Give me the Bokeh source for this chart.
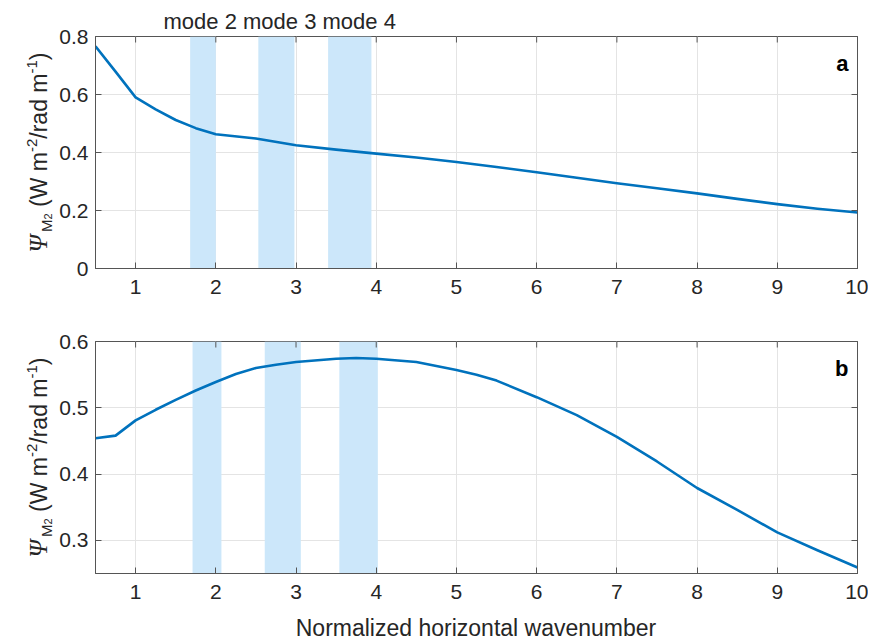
import math
from bokeh.plotting import figure
from bokeh.layouts import column, row
from bokeh.models import Range1d, FixedTicker, LinearAxis, Label, CustomJSTickFormatter
from bokeh.core.properties import value
from bokeh.embed import file_html
from bokeh.resources import INLINE

# ---------------- data ----------------
x_a = [0.5, 0.75, 1.0, 1.25, 1.5, 1.75, 2.0, 2.5, 3.0, 3.5, 4.0, 4.5, 5.0, 5.5,
       6.0, 6.5, 7.0, 7.5, 8.0, 8.5, 9.0, 9.5, 10.0]
psi_a = [0.766, 0.679, 0.590, 0.549, 0.512, 0.484, 0.463, 0.448, 0.425, 0.410,
         0.396, 0.383, 0.367, 0.350, 0.332, 0.313, 0.294, 0.277, 0.259, 0.240,
         0.222, 0.206, 0.193]

x_b = [0.5, 0.75, 1.0, 1.25, 1.5, 1.75, 2.0, 2.25, 2.5, 2.75, 3.0, 3.5, 3.75, 4.0,
       4.5, 5.0, 5.25, 5.5, 6.0, 6.5, 7.0, 7.5, 8.0, 8.5, 9.0, 9.5, 10.0]
psi_b = [0.454, 0.458, 0.481, 0.497, 0.512, 0.526, 0.539, 0.551, 0.560, 0.565,
         0.569, 0.574, 0.575, 0.574, 0.569, 0.557, 0.550, 0.541, 0.516, 0.489,
         0.456, 0.419, 0.379, 0.346, 0.312, 0.285, 0.259]

band_left_a = [1.68, 2.53, 3.40]
band_right_a = [2.00, 2.98, 3.94]
band_left_b = [1.71, 2.61, 3.54]
band_right_b = [2.07, 3.06, 4.02]

x_ticks = [1, 2, 3, 4, 5, 6, 7, 8, 9, 10]
y_ticks_a = [0, 0.2, 0.4, 0.6, 0.8]
y_ticks_b = [0.3, 0.4, 0.5, 0.6]

mode_text = "mode 2 mode 3 mode 4"
panel_tags = ["a", "b"]
x_title = "Normalized horizontal wavenumber"
# y label pieces: (text, role); " " is only an advance
y_label_parts = [("\u03A8", "psi"), ("M", "sub"), ("2", "subsub"), (" ", "main"),
                 ("(W m", "main"), ("-2", "sup"), ("/rad m", "main"), ("-1", "sup"),
                 (")", "main")]

X_RANGE = (0.5, 10.0)
Y_RANGE_A = (0.0, 0.8)
Y_RANGE_B = (0.25, 0.6)

# ---------------- style / layout (pixels) ----------------
TOTAL_W = 868
FRAME_W, FRAME_H = 763, 232
YLAB_W = 56           # width of the y-label strip
BL = 94 - YLAB_W      # left border of the panels (tick labels)
BR = TOTAL_W - YLAB_W - BL - FRAME_W
BT1, BB1 = 36, 61     # panel a borders (top holds the mode labels)
BT2, BB2 = 12, 40     # panel b borders
TITLE_H = 27          # strip below panel b
TICK = 6
BASE_FIX = 0.3        # empirical correction of the alphabetic baseline (em)
LINE_C = "#0072BD"
BAND_C = "#cce7fa"
TXT_C = "#262626"
AX_C = "#555555"
GRID_C = "#e4e4e4"
FONT = "Liberation Sans"

# Arial-like advance widths (per 1000 em)
W = {" ": 278, "(": 333, ")": 333, "W": 944, "m": 833, "/": 278, "r": 333, "a": 556,
     "d": 556, "-": 333, "1": 556, "2": 556, "M": 833, "\u03A8": 820}

ROLE = {  # font, size(px), style, baseline shift (px, + = below baseline)
    "psi": ("Liberation Serif", 25, "italic", 0),
    "sub": (FONT, 15, "normal", 5),
    "subsub": (FONT, 11, "normal", 6),
    "main": (FONT, 23, "normal", 0),
    "sup": (FONT, 15, "normal", -9),
}


def text_w(s, size):
    return sum(W.get(c, 556) for c in s) * size / 1000.0


def text_strip(w, h, bt=0, bb=0):
    f = figure(width=w, height=h, x_range=Range1d(0, w), y_range=Range1d(0, h - bt - bb),
               x_axis_type=None, y_axis_type=None, output_backend="svg",
               toolbar_location=None, min_border=0, min_border_left=0,
               min_border_right=0, min_border_top=bt, min_border_bottom=bb,
               outline_line_color=None, background_fill_color="white",
               border_fill_color="white")
    f.xgrid.visible = False
    f.ygrid.visible = False
    return f


def y_label_strip(bt, bb):
    # same vertical borders as the panel beside it, so frames line up
    s = text_strip(YLAB_W, bt + FRAME_H + bb, bt, bb)
    total = sum(text_w(t, ROLE[r][1]) for t, r in y_label_parts)
    base_x = 45
    cum = FRAME_H / 2 - total / 2
    for t, r in y_label_parts:
        font, size, style, shift = ROLE[r]
        if t.strip():
            s.text(x=[base_x + shift - BASE_FIX * size], y=[cum], text=[t],
                   angle=math.pi / 2, text_align="left", text_baseline="alphabetic",
                   text_font=value(font), text_font_style=style,
                   text_font_size=f"{size}px", text_color=TXT_C)
        cum += text_w(t, size)
    return s


def make_panel(xs, ys, bl, br, yr, yticks, tag, bt, bb):
    p = figure(width=BL + FRAME_W + BR, height=bt + FRAME_H + bb,
               x_range=Range1d(*X_RANGE), y_range=Range1d(*yr),
               output_backend="svg", toolbar_location=None,
               min_border_left=BL, min_border_right=BR,
               min_border_top=bt, min_border_bottom=bb,
               background_fill_color="white", border_fill_color="white")
    p.outline_line_color = AX_C
    p.outline_line_width = 1
    px_x = FRAME_W / (X_RANGE[1] - X_RANGE[0])
    px_y = FRAME_H / (yr[1] - yr[0])

    p.quad(left=bl, right=br, bottom=yr[0], top=yr[1],
           fill_color=BAND_C, line_color=None)
    p.line(xs, ys, line_color=LINE_C, line_width=2.6, line_join="round")

    for ax, ticks in ((p.xaxis, x_ticks), (p.yaxis, yticks)):
        ax.ticker = FixedTicker(ticks=ticks)
        ax.axis_line_color = AX_C
        ax.major_tick_line_color = AX_C
        ax.major_tick_in = TICK
        ax.major_tick_out = 0
        ax.minor_tick_line_color = None
        ax.major_label_text_font = FONT
        ax.major_label_text_font_size = "21px"
        ax.major_label_text_color = TXT_C
    p.xaxis.major_label_standoff = 11
    p.yaxis.major_label_standoff = 7
    p.yaxis.major_label_overrides = {0: "0"}

    p.xgrid.ticker = FixedTicker(ticks=x_ticks)
    p.ygrid.ticker = FixedTicker(ticks=yticks)
    p.xgrid.grid_line_color = GRID_C
    p.ygrid.grid_line_color = GRID_C

    # inward ticks on the right side (axis without labels)
    blank = CustomJSTickFormatter(code="return ''")
    right_ax = LinearAxis(ticker=FixedTicker(ticks=yticks), formatter=blank,
                          major_tick_in=TICK, major_tick_out=0, minor_tick_line_color=None,
                          axis_line_color=AX_C, major_tick_line_color=AX_C,
                          major_label_text_font_size="1px", major_label_standoff=0)
    p.add_layout(right_ax, "right")
    # inward ticks along the top edge
    n = len(x_ticks)
    p.segment(x0=x_ticks, y0=[yr[1]] * n, x1=x_ticks, y1=[yr[1] - TICK / px_y] * n,
              line_color=AX_C, line_width=1)

    # panel tag (inside the frame)
    p.add_layout(Label(x=X_RANGE[1] - 9 / px_x,
                       y=yr[1] - (34 - BASE_FIX * 22) / px_y, text=tag,
                       text_align="right", text_baseline="alphabetic",
                       text_font=FONT, text_font_style="bold",
                       text_font_size="22px", text_color="black"))
    return p


p1 = make_panel(x_a, psi_a, band_left_a, band_right_a, Y_RANGE_A, y_ticks_a,
                panel_tags[0], BT1, BB1)
# mode labels as the (left aligned, offset) title of panel a
p1.title.text = mode_text
p1.title.align = "left"
p1.title.offset = 162 - 94
p1.title.standoff = 5
p1.title.text_font = FONT
p1.title.text_font_size = "22px"
p1.title.text_font_style = "normal"
p1.title.text_color = TXT_C

p2 = make_panel(x_b, psi_b, band_left_b, band_right_b, Y_RANGE_B, y_ticks_b,
                panel_tags[1], BT2, BB2)

ylab1 = y_label_strip(BT1, BB1)
ylab2 = y_label_strip(BT2, BB2)

# strip with the x title (baseline 6 px above the strip bottom)
title_fig = text_strip(TOTAL_W, TITLE_H)
title_fig.text(x=[94 + FRAME_W / 2], y=[6 + BASE_FIX * 23], text=[x_title],
               text_align="center", text_baseline="alphabetic", text_font=value(FONT),
               text_font_size="23px", text_color=TXT_C)

layout = column(row(ylab1, p1, spacing=0),
                row(ylab2, p2, spacing=0),
                title_fig, spacing=0)
open("out.html", "w").write(file_html(layout, INLINE))
